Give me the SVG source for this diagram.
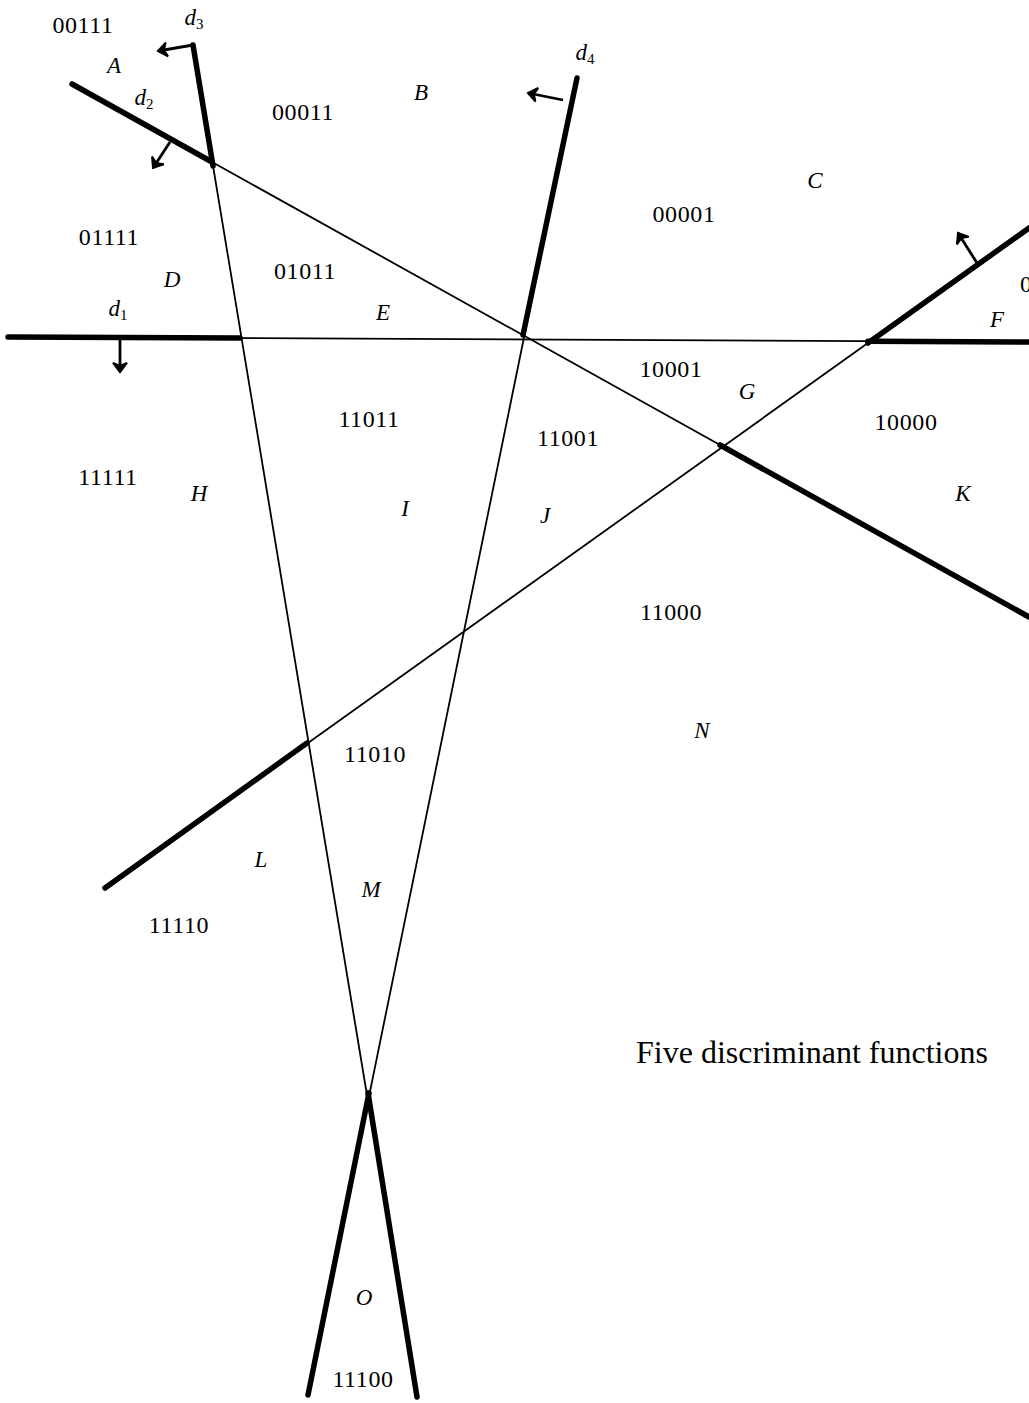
<svg xmlns="http://www.w3.org/2000/svg" width="1029" height="1403" viewBox="0 0 1029 1403">
<style>
.thin{stroke:#000;stroke-width:1.8;fill:none;stroke-linecap:round}
.thick{stroke:#000;stroke-width:5.5;fill:none;stroke-linecap:round}
.arr{stroke:#000;stroke-width:2.8;fill:none;marker-end:url(#ah)}
.num{font-family:"Liberation Serif",serif;font-size:24px;letter-spacing:0.6px;fill:#000;text-anchor:middle}
.lab{font-family:"Liberation Serif",serif;font-size:23px;font-style:italic;fill:#000;text-anchor:middle}
.sub{font-size:15px;font-style:normal}
.cap{font-family:"Liberation Serif",serif;font-size:32px;fill:#000}
</style>
<defs>
<marker id="ah" markerUnits="userSpaceOnUse" markerWidth="20" markerHeight="20" refX="10" refY="10" orient="auto">
<path d="M1,3 L10,10 L1,17 L4,10 Z" stroke="#000" stroke-width="2" fill="#000" stroke-linejoin="miter"/>
</marker>
</defs>
<rect width="1029" height="1403" fill="#fff"/>
<g id="connectors">
<g id="d1">
<line class="thin" x1="8" y1="337" x2="1029" y2="342"/>
<line class="thick" x1="8" y1="337" x2="240" y2="338.1"/>
<line class="thick" x1="868" y1="341.2" x2="1029" y2="342"/>
<line class="arr" x1="120" y1="338" x2="120" y2="372"/>
</g>
<g id="d2">
<line class="thin" x1="72" y1="84" x2="1029" y2="617"/>
<line class="thick" x1="72" y1="84" x2="212" y2="162"/>
<line class="thick" x1="720" y1="445" x2="1029" y2="617"/>
<line class="arr" x1="170" y1="142" x2="153" y2="168"/>
</g>
<g id="d3">
<line class="thin" x1="193" y1="45" x2="417" y2="1397"/>
<line class="thick" x1="193" y1="45" x2="213" y2="166"/>
<line class="thick" x1="368" y1="1093" x2="417" y2="1397"/>
<line class="arr" x1="193" y1="45" x2="158" y2="51"/>
</g>
<g id="d4">
<line class="thin" x1="577" y1="78" x2="308" y2="1395"/>
<line class="thick" x1="577" y1="78" x2="523" y2="335"/>
<line class="thick" x1="369" y1="1093" x2="308" y2="1395"/>
<line class="arr" x1="563" y1="100" x2="528" y2="93"/>
</g>
<g id="d5">
<line class="thin" x1="1029" y1="228" x2="105" y2="888"/>
<line class="thick" x1="1029" y1="228" x2="868" y2="343"/>
<line class="thick" x1="307" y1="743" x2="105" y2="888"/>
<line class="arr" x1="977" y1="263" x2="958" y2="233"/>
</g>
</g>
<g id="labels">
<text class="lab" x="194" y="25">d<tspan class="sub" dy="4">3</tspan></text>
<text class="lab" x="144" y="105">d<tspan class="sub" dy="4">2</tspan></text>
<text class="lab" x="585" y="60">d<tspan class="sub" dy="4">4</tspan></text>
<text class="lab" x="118" y="316">d<tspan class="sub" dy="4">1</tspan></text>
<text class="lab" x="114" y="73">A</text>
<text class="lab" x="421" y="100">B</text>
<text class="lab" x="815" y="188">C</text>
<text class="lab" x="172" y="287">D</text>
<text class="lab" x="383" y="320">E</text>
<text class="lab" x="997" y="327">F</text>
<text class="lab" x="747" y="399">G</text>
<text class="lab" x="199" y="501">H</text>
<text class="lab" x="405" y="516">I</text>
<text class="lab" x="545" y="523">J</text>
<text class="lab" x="963" y="501">K</text>
<text class="lab" x="261" y="867">L</text>
<text class="lab" x="371" y="897">M</text>
<text class="lab" x="702" y="738">N</text>
<text class="lab" x="364" y="1305">O</text>
</g>
<g id="codes">
<text class="num" x="83" y="33">00111</text>
<text class="num" x="303" y="120">00011</text>
<text class="num" x="684" y="222">00001</text>
<text class="num" x="109" y="245">01111</text>
<text class="num" x="305" y="279">01011</text>
<text class="num" x="1020" y="292" style="text-anchor:start">0</text>
<text class="num" x="671" y="377">10001</text>
<text class="num" x="369" y="427">11011</text>
<text class="num" x="568" y="446">11001</text>
<text class="num" x="906" y="430">10000</text>
<text class="num" x="108" y="485">11111</text>
<text class="num" x="671" y="620">11000</text>
<text class="num" x="375" y="762">11010</text>
<text class="num" x="179" y="933">11110</text>
<text class="num" x="363" y="1387">11100</text>
</g>
<text class="cap" x="636" y="1063">Five discriminant functions</text>
</svg>
